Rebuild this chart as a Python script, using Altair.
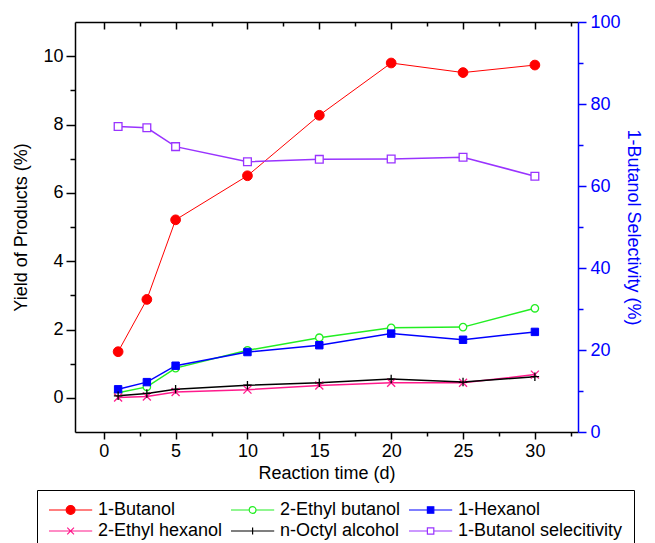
import altair as alt
import pandas as pd

# ---- data ----
days = [1, 3, 5, 10, 15, 20, 25, 30]
butanol = [1.35, 2.88, 5.21, 6.50, 8.27, 9.80, 9.52, 9.74]
ethyl_butanol = [0.15, 0.32, 0.87, 1.39, 1.76, 2.05, 2.07, 2.62]
hexanol = [0.25, 0.46, 0.94, 1.34, 1.54, 1.88, 1.70, 1.93]
ethyl_hexanol = [0.01, 0.04, 0.17, 0.24, 0.36, 0.44, 0.44, 0.68]
octyl = [0.06, 0.13, 0.25, 0.37, 0.44, 0.55, 0.46, 0.62]
selectivity = [74.5, 74.2, 69.6, 65.9, 66.5, 66.6, 67.0, 62.4]

names = ["1-Butanol", "2-Ethyl butanol", "1-Hexanol",
         "2-Ethyl hexanol", "n-Octyl alcohol", "1-Butanol selecitivity"]
left_values = [butanol, ethyl_butanol, hexanol, ethyl_hexanol, octyl]

# ---- styles ----
FONT = "Liberation Sans"
colors = ["#FF0000", "#22EE22", "#0000FF", "#FF1A8C", "#000000", "#9933FF"]
fills = ["#FF0000", "#FFFFFF", "#0000FF", "transparent", "transparent", "#FFFFFF"]
line_w = [1.0, 1.5, 1.5, 1.5, 1.5, 1.5]
X_PATH = "M-1,-1L1,1M-1,1L1,-1"
PLUS_PATH = "M-1,0H1M0,-1V1"
marker = [
    dict(shape="circle", size=95, filled=True, fill="#FF0000", stroke="#FF0000", strokeWidth=1),
    dict(shape="circle", size=55, filled=True, fill="#FFFFFF", stroke="#22EE22", strokeWidth=1.3),
    dict(shape="square", size=55, filled=True, fill="#0000FF", stroke="#0000FF", strokeWidth=1),
    dict(shape=X_PATH, size=64, filled=False, stroke="#FF1A8C", strokeWidth=1.3),
    dict(shape=PLUS_PATH, size=72, filled=False, stroke="#000000", strokeWidth=1.3),
    dict(shape="square", size=60, filled=True, fill="#FFFFFF", stroke="#9933FF", strokeWidth=1.3),
]
legend_paths = [
    "M-1,0H1.15M2.25,0H4.4M1.15,0A0.55,0.55 0 1,0 2.25,0A0.55,0.55 0 1,0 1.15,0Z",
    "M-1,0H1.28M2.12,0H4.4M1.28,0A0.42,0.42 0 1,0 2.12,0A0.42,0.42 0 1,0 1.28,0Z",
    "M-1,0H1.3M2.1,0H4.4M1.3,-0.4H2.1V0.4H1.3Z",
    "M-1,0H4.4M1.28,-0.42L2.12,0.42M1.28,0.42L2.12,-0.42",
    "M-1,0H4.4M1.7,-0.45V0.45",
    "M-1,0H1.3M2.1,0H4.4M1.3,-0.4H2.1V0.4H1.3Z",
]
# legend fills column by column (2 rows x 3 columns), so order entries to read row-wise
legend_order = [0, 3, 1, 4, 2, 5]
leg_names = [names[i] for i in legend_order]
leg_colors = [colors[i] for i in legend_order]
leg_fills = [fills[i] for i in legend_order]
leg_paths = [legend_paths[i] for i in legend_order]

rows = []
for name, vals in zip(names[:5], left_values):
    for d, v in zip(days, vals):
        rows.append({"day": d, "value": v, "series": name})
df_left = pd.DataFrame(rows)
df_sel = pd.DataFrame({"day": days, "sel": selectivity})

x_ticks = [i * 2.5 for i in range(14)]
x_scale = alt.Scale(domain=[-2, 33], nice=False, zero=False)
yl_scale = alt.Scale(domain=[-1, 11], nice=False, zero=False)
yr_scale = alt.Scale(domain=[0, 100], nice=False, zero=False)

common = dict(grid=False, labelFont=FONT, titleFont=FONT, labelFontSize=18,
              titleFontSize=18, titleFontWeight="normal", domainWidth=1.5,
              tickWidth=1.5, labelFlush=False, labelOverlap=False)

xb = alt.X("day:Q", scale=x_scale, axis=alt.Axis(
    orient="bottom", values=x_ticks,
    labelExpr="datum.value % 5 == 0 ? format(datum.value, 'd') : ''",
    tickSize={"condition": {"test": "datum.value % 5 != 0", "value": 4}, "value": 7},
    domainColor="black", tickColor="black", labelColor="black", titleColor="black",
    title="Reaction time (d)", labelPadding=3, titlePadding=4, **common))

xt = alt.X("day:Q", scale=x_scale, axis=alt.Axis(
    orient="top", values=x_ticks, labels=False, title=None,
    tickSize={"expr": "datum.value % 5 == 0 ? -7 : -4"},
    domainColor="black", tickColor="black", grid=False, domainWidth=1.5, tickWidth=1.5))

yl = alt.Y("value:Q", scale=yl_scale, axis=alt.Axis(
    orient="left", values=list(range(0, 11)),
    labelExpr="datum.value % 2 == 0 ? format(datum.value, 'd') : ''",
    tickSize={"condition": {"test": "datum.value % 2 != 0", "value": 5}, "value": 9},
    domainColor="black", tickColor="black", labelColor="black", titleColor="black",
    title="Yield of Products (%)", labelPadding=3, titlePadding=12, **common))

yr = alt.Y("sel:Q", scale=yr_scale, axis=alt.Axis(
    orient="right", values=list(range(0, 101, 10)),
    labelExpr="datum.value % 20 == 0 ? format(datum.value, 'd') : ''",
    tickSize={"condition": {"test": "datum.value % 20 != 0", "value": 5}, "value": 8},
    domainColor="#0000FF", tickColor="#0000FF", labelColor="#0000FF", titleColor="#0000FF",
    title="1-Butanol Selectivity (%)", labelPadding=4, titlePadding=3, **common))

# ---- left-axis series ----
left_layers = []
for i, name in enumerate(names[:5]):
    base = alt.Chart(df_left).transform_filter(alt.datum.series == name)
    left_layers.append(base.mark_line(stroke=colors[i], strokeWidth=line_w[i]).encode(x=xb, y=yl))
for i, name in enumerate(names[:5]):
    base = alt.Chart(df_left).transform_filter(alt.datum.series == name)
    left_layers.append(base.mark_point(opacity=1, **marker[i]).encode(x=xb, y=yl))

leg = alt.Legend(
    orient="none", legendX=-38, legendY=468, columns=3, title=None,
    labelFont=FONT, labelFontSize=18, labelColor="black", labelLimit=400,
    symbolSize=256, symbolStrokeWidth=1.2, symbolOpacity=1, labelOffset=32,
    padding=11, rowPadding=3, columnPadding=5,
    strokeColor="black", fillColor="white")

legend_layer = alt.Chart(df_left).transform_filter("false").mark_point(
    opacity=1, size=256, strokeWidth=1.2).encode(
    x=xb, y=yl,
    shape=alt.Shape("series:N", scale=alt.Scale(domain=leg_names, range=leg_paths), legend=leg),
    stroke=alt.Stroke("series:N", scale=alt.Scale(domain=leg_names, range=leg_colors), legend=leg),
    fill=alt.Fill("series:N", scale=alt.Scale(domain=leg_names, range=leg_fills), legend=leg),
)
left_layers.append(legend_layer)
left = alt.layer(*left_layers)

# ---- right-axis series ----
sel_line = alt.Chart(df_sel).mark_line(stroke=colors[5], strokeWidth=line_w[5]).encode(x=xt, y=yr)
sel_pts = alt.Chart(df_sel).mark_point(opacity=1, **marker[5]).encode(x=xt, y=yr)
right = alt.layer(sel_line, sel_pts)

chart = alt.layer(left, right).resolve_scale(y="independent").resolve_axis(x="independent").properties(
    width=503, height=410,
    padding={"left": 67, "top": 14, "right": 69, "bottom": 121},
    autosize=alt.AutoSizeParams(type="none"),
).configure_view(stroke=None).configure(font=FONT)

chart.save("out.html", embed_options={"renderer": "svg", "actions": False})
